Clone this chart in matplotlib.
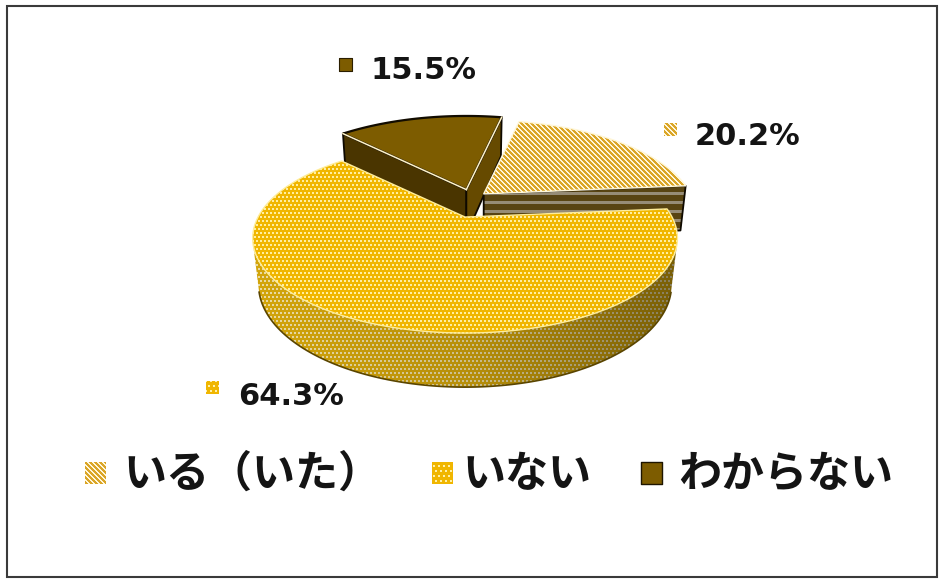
import numpy as np
import matplotlib
matplotlib.use("Agg")
import matplotlib.pyplot as plt
from matplotlib.patches import Polygon, Rectangle

# ---- survey answers ----
labels = ["いる（いた）", "いない", "わからない"]
shares = [20.2, 64.3, 15.5]
pct_labels = ["20.2%", "64.3%", "15.5%"]

W, H = 945, 584
fig = plt.figure(figsize=(W / 100, H / 100), dpi=100)
ax = fig.add_axes([0, 0, 1, 1])
ax.set_xlim(0, W)
ax.set_ylim(H, 0)
ax.axis("off")

yy, xx = np.mgrid[0:H, 0:W]


def rgb(r, g, b):
    return np.array([r, g, b], float) / 255.0


def dotted(base, dot, step=5, size=2, shade=None):
    row = yy // step
    shift = (row % 2) * (step // 2)
    mask = (((xx + shift) % step) < size) & ((yy % step) < size)
    img = np.where(mask[..., None], dot, base)
    if shade is not None:
        img = img * shade[..., None]
    return np.clip(img, 0, 1)


def striped(c1, c2, period=5, width=2):
    mask = ((xx - yy) % period) < width
    return np.where(mask[..., None], c2, c1)


def paint(verts, tex=None, color=None, z=1, edge="none", lw=0.0):
    poly = Polygon(verts, closed=True, transform=ax.transData,
                   facecolor=color if tex is None else "none",
                   edgecolor=edge, linewidth=lw, zorder=z + 0.5,
                   joinstyle="round")
    ax.add_patch(poly)
    if tex is not None:
        im = ax.imshow(tex, extent=(0, W, H, 0), interpolation="nearest",
                       zorder=z, aspect="auto")
        im.set_clip_path(poly)
    return poly


# ---- textures ----
tex_yes_top = striped(rgb(218, 165, 38), rgb(255, 246, 218), period=5, width=2)
tex_no_top = dotted(rgb(240, 182, 0), rgb(255, 238, 160), step=4, size=2)
side_shade = np.interp(xx, [250, 470, 690], [1.0, 0.86, 0.55])
tex_no_side = dotted(rgb(212, 166, 12), rgb(235, 220, 165), step=4, size=2,
                     shade=side_shade)
tex_yes_cut = np.where((((yy // 3) % 3) == 1)[..., None],
                       rgb(150, 140, 118), rgb(88, 68, 18))
tex_no_mark = dotted(rgb(240, 182, 0), rgb(255, 240, 170), step=5, size=2)

# ---- 3D pie geometry ----
tilt = np.radians(25.8)
cam = 4.03
scale = 207.0
cx, cy = 471.0, 203.5
thick = 0.25
pull, squash = 17.0, 0.85
first_angle = 12.0


def project(x, y, z):
    x, y, z = (np.asarray(v, float) for v in (x, y, z))
    s = y * np.sin(tilt) + z * np.cos(tilt)
    d = y * np.cos(tilt) - z * np.sin(tilt)
    f = cam / (cam + d)
    return np.column_stack([cx + scale * x * f, cy - scale * s * f])


bounds = first_angle + 360.0 * np.concatenate([[0.0], np.cumsum(shares)]) / np.sum(shares)

styles = {
    0: dict(top_tex=tex_yes_top, top_col=None, top_edge=(1, 0.97, 0.85), cut_tex=tex_yes_cut,
            cut_col=None, wall_tex=tex_yes_top, edge="#1a1200"),
    1: dict(top_tex=tex_no_top, top_col=None, top_edge=(1, 0.93, 0.6), cut_tex=None,
            cut_col="#8a6a00", wall_tex=tex_no_side, edge="#5a4500"),
    2: dict(top_tex=None, top_col="#7d5c00", top_edge="#120c00", cut_tex=None,
            cut_col="#4a3500", wall_tex=None, edge="#120c00"),
}

draw_order = [2, 0, 1]
for rank, i in enumerate(draw_order):
    a0, a1 = bounds[i], bounds[i + 1]
    mid = np.radians((a0 + a1) / 2)
    off = np.array([pull * np.sin(mid), -pull * squash * np.cos(mid)])
    st = styles[i]
    zb = 1 + rank * 4

    th = np.radians(np.linspace(a0, a1, 200))
    rx, ry = np.sin(th), np.cos(th)

    # outer wall (only the part turned towards the viewer)
    vis = (-cam * np.cos(tilt) * ry - 1.0) > 0
    if vis.any():
        vx, vy = rx[vis], ry[vis]
        top_arc = project(vx, vy, np.zeros_like(vx))
        bot_arc = project(vx, vy, -thick * np.ones_like(vx))
        wall = np.vstack([top_arc, bot_arc[::-1]]) + off
        paint(wall, tex=st["wall_tex"], color=st["cut_col"], z=zb)
        ax.plot(bot_arc[:, 0] + off[0], bot_arc[:, 1] + off[1],
                color=st["edge"], lw=1.2, zorder=zb + 0.6)

    # radial cut faces
    for ang, sign in ((a0, -1), (a1, 1)):
        a = np.radians(ang)
        facing = sign * np.sin(a) > 0
        if not facing:
            continue
        face = project([0, np.sin(a), np.sin(a), 0], [0, np.cos(a), np.cos(a), 0],
                       [0, 0, -thick, -thick]) + off
        col = st["cut_col"]
        if i == 2 and sign == 1:
            col = "#664a00"
        paint(face, tex=st["cut_tex"], color=col, z=zb + 1,
              edge="#0e0900", lw=1.3)

    # top face
    top = np.vstack([project([0], [0], [0]), project(rx, ry, np.zeros_like(rx))]) + off
    if i == 2:
        paint(top, color=st["top_col"], z=zb + 2, edge=st["top_edge"], lw=1.6)
        apex = top[0]
        for corner in (top[1], top[-1]):
            ax.plot([apex[0], corner[0]], [apex[1], corner[1]], color="#fff3c8",
                    lw=1.1, zorder=zb + 3)
    else:
        paint(top, tex=st["top_tex"], z=zb + 2, edge=st["top_edge"], lw=1.0)

# ---- value labels ----
pct_pos = {0: (695, 145), 1: (238, 405), 2: (370, 79)}
mark_pos = {0: (664, 123), 1: (206, 381), 2: (339, 58)}
mark_tex = {0: tex_yes_top, 1: tex_no_mark, 2: None}
mark_col = {0: None, 1: None, 2: "#7d5c00"}
for i, txt in enumerate(pct_labels):
    x, y = pct_pos[i]
    ax.text(x, y, txt, fontsize=22, fontweight="bold", family="DejaVu Sans",
            color="#141414", ha="left", va="baseline", zorder=30)
    mx, my = mark_pos[i]
    sq = [(mx, my), (mx + 13, my), (mx + 13, my + 13), (mx, my + 13)]
    paint(sq, tex=mark_tex[i], color=mark_col[i], z=30,
          edge="#2a1e00" if i == 2 else "none", lw=0.8)

# ---- legend ----
leg_marks = [(85, 462), (432, 462), (641, 462)]
leg_text_x = [123, 462, 678]
for i, lab in enumerate(labels):
    mx, my = leg_marks[i]
    sq = [(mx, my), (mx + 21, my), (mx + 21, my + 22), (mx, my + 22)]
    paint(sq, tex=mark_tex[i], color=mark_col[i], z=30,
          edge="#1e1500" if i == 2 else "none", lw=1.0)
    ax.text(leg_text_x[i], 487, lab, fontsize=31, fontweight="bold",
            family=["Noto Sans CJK JP", "DejaVu Sans"], color="#141414",
            ha="left", va="baseline", zorder=30)

# ---- frame ----
ax.add_patch(Rectangle((7, 6), 930, 571, fill=False, edgecolor="#3a3a3a",
                       linewidth=1.5, zorder=40))

ax.set_xlim(0, W)
ax.set_ylim(H, 0)
fig.savefig("out.png", dpi=100)
